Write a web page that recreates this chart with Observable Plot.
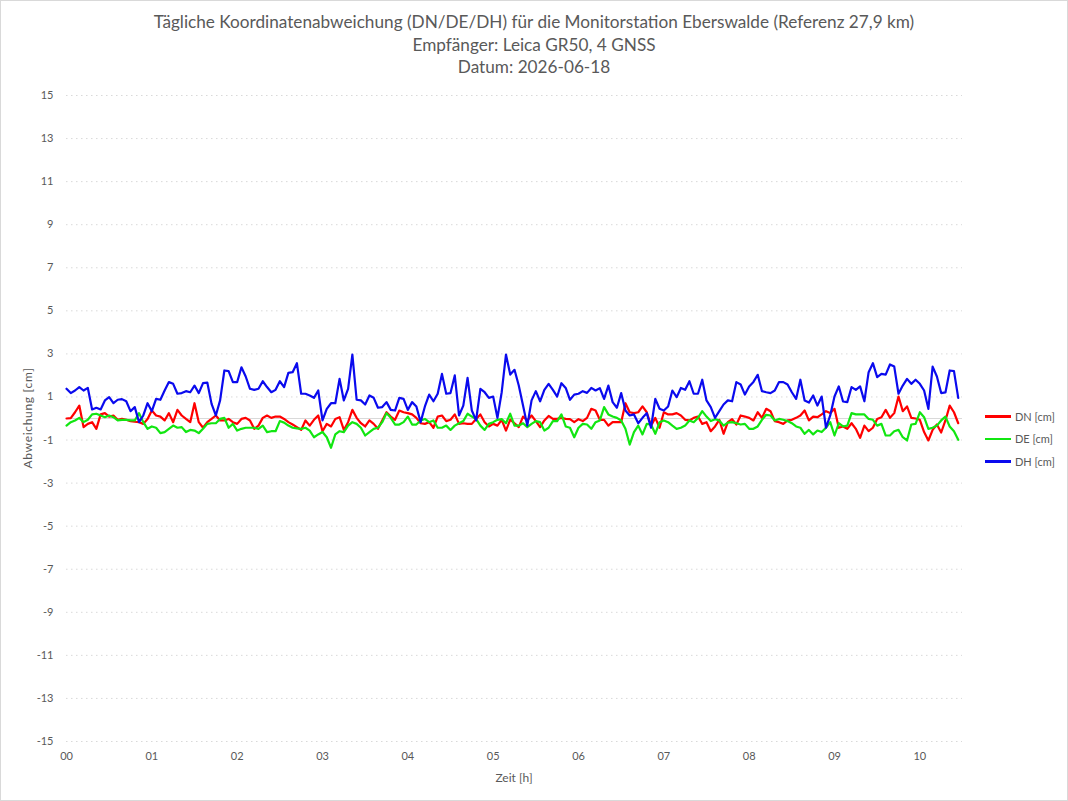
<!DOCTYPE html>
<html><head><meta charset="utf-8">
<script src="https://cdn.jsdelivr.net/npm/d3@7"></script>
<script src="https://cdn.jsdelivr.net/npm/@observablehq/plot@0.6"></script>
<style>
body{margin:0;background:#fff;font-family:Lato,"Open Sans",sans-serif;}
#frame{position:relative;width:1066px;height:799px;border:1px solid #d9d9d9;background:#fff;overflow:hidden}
#title{height:86px;text-align:center;color:#595959;font-size:17.2px;line-height:22.5px;padding-top:10px;box-sizing:border-box}
#title div{white-space:nowrap}
.lab{position:absolute;color:#595959;font-size:12px;white-space:nowrap}
#ylab{left:26px;top:417px;letter-spacing:0.7px;transform:translate(-50%,-50%) rotate(-90deg)}
#xlab{left:513px;top:776px;transform:translate(-50%,-50%)}
#legend{position:absolute;left:984px;top:404px;font-size:11px;color:#595959}
.li{display:flex;align-items:center;height:22.5px}
.sw{width:26px;height:2.5px;margin-right:4px}
svg{display:block}
</style></head>
<body>
<div id="frame">
  <div id="title">
    <div>Tägliche Koordinatenabweichung (DN/DE/DH) für die Monitorstation Eberswalde (Referenz 27,9 km)</div>
    <div>Empfänger: Leica GR50, 4 GNSS</div>
    <div>Datum: 2026-06-18</div>
  </div>
  <div id="chart"></div>
  <div class="lab" id="ylab">Abweichung [cm]</div>
  <div class="lab" id="xlab">Zeit [h]</div>
  <div id="legend"></div>
</div>
<script>
// Sampling interval of the station series (minutes)
const intervalMin = 3;

// Tick labels
const hourTicks = [0,1,2,3,4,5,6,7,8,9,10];
const yTicks = [-15,-13,-11,-9,-7,-5,-3,-1,1,3,5,7,9,11,13,15];

// Series names and colours
const seriesNames = ["DN [cm]", "DE [cm]", "DH [cm]"];
const seriesColors = ["#ff0000", "#11e611", "#0a0aee"];

// DN [cm]
const dn = [
 0,0.02,0.29,0.60,-0.40,-0.25,-0.17,-0.48,0.19,0.25,0.09,0.14,-0.06,-0.02,-0.06,-0.12,-0.15,-0.17,-0.25,-0.02,
 0.37,0.14,0.09,-0.09,0.25,-0.17,0.40,0.14,-0.02,-0.17,0.71,-0.17,-0.43,-0.17,-0.02,0.14,-0.09,-0.09,-0.02,-0.17,
 -0.25,-0.02,0.03,-0.09,-0.48,-0.33,0.03,0.14,0.03,0.09,0.09,
 -0.02,-0.17,-0.28,-0.40,-0.53,-0.09,-0.33,-0.06,0.14,-0.59,-0.25,-0.37,-0.02,0.06,-0.53,-0.17,0.40,0.03,-0.22,-0.37,
 -0.09,-0.25,-0.48,-0.09,0.29,0.09,-0.06,0.37,0.29,0.25,0.19,0.03,-0.22,-0.25,-0.17,-0.43,0.09,0.14,-0.12,-0.06,
 0.19,-0.25,-0.22,-0.25,-0.25,-0.02,0.19,-0.17,-0.37,
 -0.25,-0.33,-0.06,-0.56,-0.05,-0.22,-0.40,0.09,-0.09,0.14,-0.12,-0.40,-0.09,0.12,-0.02,-0.02,0.03,-0.02,-0.03,-0.17,
 -0.03,-0.12,0.03,0.45,0.37,-0.06,-0.06,-0.33,-0.17,-0.17,-0.17,0.71,0.29,0.25,0.29,0.56,0.29,-0.33,0.03,-0.43,
 0.29,0.19,0.19,0.25,0.14,-0.06,-0.09,0.03,0.09,
 -0.25,-0.17,-0.59,-0.37,-0.06,-0.71,-0.17,-0.03,-0.28,0.14,0.09,0.03,-0.09,0.29,0.03,0.45,0.34,-0.12,-0.17,-0.25,
 -0.09,-0.06,0.03,0.14,0.37,-0.09,0.09,0.06,0.19,0.34,0.25,0.45,-0.43,-0.37,-0.48,-0.22,-0.48,-0.90,-0.33,-0.59,
 -0.43,-0.02,0.06,0.40,0.03,0.25,1.02,0.34,0.56,
 0.03,0,-0.06,-0.63,-1.02,-0.53,-0.28,-0.65,-0.09,0.60,0.29,-0.22
];

// DE [cm]
const de = [
 -0.33,-0.17,-0.09,0.03,-0.17,-0.06,0.19,0.22,0.14,0.06,0.14,0.06,-0.09,-0.06,-0.06,-0.09,-0.09,0.25,-0.17,-0.48,
 -0.37,-0.43,-0.68,-0.63,-0.48,-0.33,-0.43,-0.40,-0.63,-0.53,-0.56,-0.68,-0.48,-0.25,-0.22,-0.22,-0.02,0.03,-0.43,-0.25,
 -0.56,-0.48,-0.43,-0.43,-0.43,-0.48,-0.33,-0.63,-0.59,-0.59,-0.12,
 -0.19,-0.33,-0.43,-0.46,-0.48,-0.43,-0.56,-0.87,-0.74,-0.63,-0.87,-1.36,-0.74,-0.59,-0.63,-0.33,-0.17,-0.25,-0.43,-0.79,
 -0.63,-0.48,-0.43,-0.17,0.25,0.03,-0.28,-0.28,-0.17,0.09,-0.28,-0.28,-0.09,-0.02,-0.17,-0.09,-0.43,-0.43,-0.33,-0.53,
 -0.33,-0.22,-0.12,0.22,0.09,-0.02,-0.33,-0.53,-0.25,
 -0.17,-0.06,-0.03,-0.22,0.22,-0.33,-0.33,-0.22,-0.40,-0.25,-0.12,-0.17,-0.56,-0.43,-0.12,-0.12,0.19,-0.37,-0.43,-0.87,
 -0.43,-0.25,-0.28,-0.48,-0.17,-0.09,0.53,0.19,0.09,0.03,-0.09,-0.48,-1.21,-0.63,-0.33,-0.74,-0.25,-0.28,-0.71,-0.17,
 -0.09,-0.17,-0.33,-0.48,-0.43,-0.33,-0.09,-0.17,0.03,
 0.34,0.09,-0.12,-0.03,-0.09,-0.33,-0.19,-0.17,-0.22,-0.28,-0.25,-0.48,-0.48,-0.37,-0.06,0.17,0.14,-0.09,-0.02,-0.06,
 -0.12,-0.22,-0.37,-0.43,-0.71,-0.53,-0.74,-0.56,-0.63,-0.43,-0.17,-0.79,-0.22,-0.37,-0.33,0.25,0.19,0.19,0.19,-0.02,
 -0.06,-0.33,-0.25,-0.79,-0.79,-0.59,-0.53,-0.87,-1.02,
 -0.28,-0.25,0.29,0.06,-0.48,-0.43,-0.33,-0.09,0.09,-0.37,-0.59,-0.99
];

// DH [cm]
const dh = [
 1.38,1.18,1.30,1.46,1.30,1.42,0.42,0.50,0.42,0.84,0.99,0.71,0.87,0.90,0.80,0.34,0.53,-0.17,0.14,0.71,
 0.34,0.91,0.87,1.30,1.69,1.61,1.15,1.18,1.27,1.22,1.53,1.18,1.64,1.67,0.68,0.14,0.84,2.23,2.20,1.69,
 1.69,2.38,1.95,1.38,1.33,1.38,1.73,1.46,1.22,1.33,1.73,
 1.46,2.12,2.15,2.57,1.15,1.15,1.07,0.96,1.30,-0.09,0.45,0.71,0.71,1.84,0.84,1.38,2.97,0.87,0.84,0.65,
 1.07,0.96,0.50,0.53,0.76,0.40,0.37,0.96,0.91,0.40,0.76,0.56,-0.17,0.56,1.11,0.80,1.15,2.07,1.15,1.18,
 2.00,0.14,0.60,1.89,0.37,-0.09,1.38,1.22,0.96,
 1.02,0.03,1.22,2.97,2.04,2.26,1.53,0.60,-0.33,0.84,1.27,0.80,1.33,1.61,1.33,1.02,1.64,1.42,0.87,1.11,
 1.15,1.27,1.19,1.42,1.30,1.41,0.91,1.53,0.76,0.50,1.18,0.37,0.14,0.19,-0.22,0.03,0.25,-0.43,0.91,0.45,
 0.37,0.56,1.30,0.99,1.42,1.33,1.73,1.15,1.15,
 1.80,0.84,0.53,0.03,0.34,0.65,0.84,0.80,1.69,1.58,1.11,1.49,1.70,2.03,1.27,1.22,1.18,1.30,1.69,1.69,
 1.58,1.22,0.91,1.80,0.84,0.74,1.07,0.60,1.02,-0.43,0.14,1.02,1.49,0.79,0.76,1.46,1.33,1.49,0.80,2.15,
 2.57,1.92,2.07,2.04,2.51,2.41,1.15,1.53,1.84,
 1.61,1.80,1.61,1.30,0.45,2.41,1.95,1.18,1.21,2.23,2.20,0.96
];

const seriesValues = [dn, de, dh];
const rows = [];
seriesValues.forEach((vals, s) => vals.forEach((v, i) => rows.push({series: seriesNames[s], t: i * intervalMin / 60, v})));

const font = 'Lato, "Open Sans", sans-serif';
const chart = Plot.plot({
  width: 1066,
  height: 713,
  marginTop: 8,
  marginBottom: 59,
  marginLeft: 65,
  marginRight: 105,
  style: {fontFamily: font, fontSize: "11px", color: "#595959", background: "#fff"},
  x: {domain: [0, 10.5], label: null},
  y: {domain: [-15, 15], label: null},
  color: {domain: seriesNames, range: seriesColors},
  marks: [
    Plot.gridY(yTicks, {stroke: "#d9d9d9", strokeOpacity: 1, strokeDasharray: "1.5,3.5", strokeWidth: 1}),
    Plot.ruleY([0], {stroke: "#d9d9d9", strokeWidth: 1.2}),
    Plot.axisY(yTicks, {tickSize: 0, tickPadding: 13, label: null, fill: "#595959", tickFormat: d => String(d)}),
    Plot.axisX(hourTicks, {tickSize: 0, tickPadding: 11, label: null, fill: "#595959", tickFormat: d => String(d).padStart(2, "0")}),
    Plot.lineY(rows, {x: "t", y: "v", z: "series", stroke: "series", strokeWidth: 2.2, strokeLinejoin: "round", strokeLinecap: "round"})
  ]
});
document.getElementById("chart").appendChild(chart);

const legend = document.getElementById("legend");
seriesNames.forEach((n, i) => {
  const row = document.createElement("div");
  row.className = "li";
  row.innerHTML = `<div class="sw" style="background:${seriesColors[i]}"></div><span>${n}</span>`;
  legend.appendChild(row);
});
</script>
</body></html>
